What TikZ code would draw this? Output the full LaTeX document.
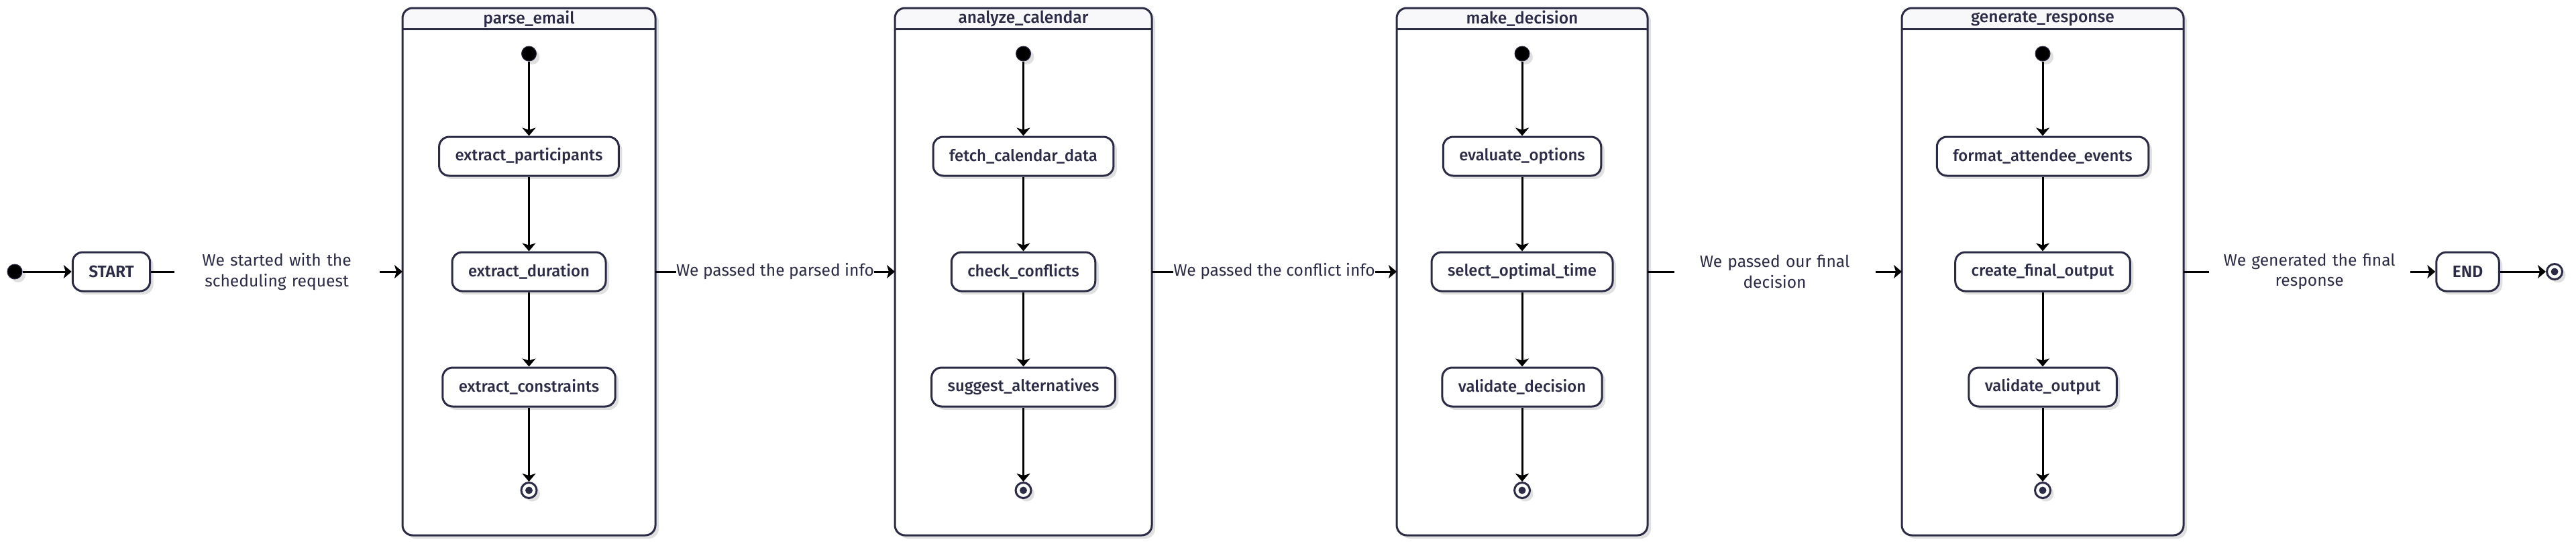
\documentclass[tikz,border=0pt]{standalone}
\usepackage{fontspec}
\setmainfont{Fira Sans}
\newfontfamily\medfont{Fira Sans Medium}
\newfontfamily\semifont{Fira Sans SemiBold}
\usetikzlibrary{positioning,arrows.meta,shadows}
\definecolor{ink}{HTML}{2B2B45}
\definecolor{headfill}{HTML}{F8F8FA}

\tikzset{
  softshadow/.style={drop shadow={shadow xshift=0.05cm, shadow yshift=-0.05cm, opacity=0.12, fill=black}},
  boxline/.style={draw=ink, line width=0.03cm},
  state/.style={boxline, fill=white, rounded corners=0.15cm, minimum height=0.58cm, inner xsep=0.24cm,
    text=ink, font=\medfont\fontsize{6.8}{8}\selectfont, softshadow},
  terminal/.style={state, font=\semifont\fontsize{7}{8}\selectfont},
  group/.style={fill=white, minimum height=7.86cm, rounded corners=0.15cm, inner sep=0, outer sep=0, softshadow},
  grouptitle/.style={text=ink, font=\medfont\fontsize{7}{8}\selectfont},
  initdot/.style={circle, fill=black, draw=ink, line width=0.01cm, minimum size=0.22cm, inner sep=0, softshadow},
  finalstate/.style={circle, boxline, fill=white, minimum size=0.23cm, inner sep=0, softshadow,
    path picture={\fill[ink] (path picture bounding box.center) circle (0.055cm);}},
  flow/.style={-{Stealth[length=0.12cm, width=0.2cm, inset=0.03cm]}, line width=0.03cm, black},
  edgetext/.style={midway, fill=white, inner xsep=0, inner ysep=0.02cm, text=ink, align=center,
    font=\fontsize{7}{8.6}\selectfont}
}

\begin{document}
\begin{tikzpicture}[node distance=1.72cm, on grid]
\useasboundingbox (0,0) rectangle (38.4,-8.13);

% composite states
\node[group, minimum width=3.77cm] (parse) at (7.885,-4.05) {};
\node[group, minimum width=3.83cm] (analyze) at (15.255,-4.05) {};
\node[group, minimum width=3.74cm] (decide) at (22.69,-4.05) {};
\node[group, minimum width=4.20cm] (respond) at (30.45,-4.05) {};

\foreach \g/\t in {parse/parse\_email, analyze/analyze\_calendar, decide/make\_decision, respond/generate\_response}{
  \begin{scope}
    \clip (\g.north west) rectangle ([yshift=-0.31cm]\g.north east);
    \fill[headfill, rounded corners=0.15cm] (\g.north west) rectangle (\g.south east);
  \end{scope}
  \draw[boxline] ([yshift=-0.31cm]\g.north west) -- ([yshift=-0.31cm]\g.north east);
  \draw[boxline, rounded corners=0.15cm] (\g.north west) rectangle (\g.south east);
  \node[grouptitle] at ([yshift=-0.16cm]\g.north) {\t};
}

% parse_email
\node[initdot] (p0) at ([yshift=-0.68cm]parse.north) {};
\node[state, below=1.53cm of p0] (p1) {extract\_participants};
\node[state, below=of p1] (p2) {extract\_duration};
\node[state, below=of p2] (p3) {extract\_constraints};
\node[finalstate, below=1.54cm of p3] (p4) {};
\path[flow] (p0) edge (p1) (p1) edge (p2) (p2) edge (p3) (p3) edge (p4);

% analyze_calendar
\node[initdot] (a0) at ([yshift=-0.68cm]analyze.north) {};
\node[state, below=1.53cm of a0] (a1) {fetch\_calendar\_data};
\node[state, below=of a1] (a2) {check\_conflicts};
\node[state, below=of a2] (a3) {suggest\_alternatives};
\node[finalstate, below=1.54cm of a3] (a4) {};
\path[flow] (a0) edge (a1) (a1) edge (a2) (a2) edge (a3) (a3) edge (a4);

% make_decision
\node[initdot] (d0) at ([yshift=-0.68cm]decide.north) {};
\node[state, below=1.53cm of d0] (d1) {evaluate\_options};
\node[state, below=of d1] (d2) {select\_optimal\_time};
\node[state, below=of d2] (d3) {validate\_decision};
\node[finalstate, below=1.54cm of d3] (d4) {};
\path[flow] (d0) edge (d1) (d1) edge (d2) (d2) edge (d3) (d3) edge (d4);

% generate_response
\node[initdot] (r0) at ([yshift=-0.68cm]respond.north) {};
\node[state, below=1.53cm of r0] (r1) {format\_attendee\_events};
\node[state, below=of r1] (r2) {create\_final\_output};
\node[state, below=of r2] (r3) {validate\_output};
\node[finalstate, below=1.54cm of r3] (r4) {};
\path[flow] (r0) edge (r1) (r1) edge (r2) (r2) edge (r3) (r3) edge (r4);

% top level
\node[initdot] (init) at (0.22,-4.05) {};
\node[terminal] (start) at (1.66,-4.05) {START};
\node[terminal] (end) at (36.785,-4.05) {END};
\node[finalstate] (fin) at (38.08,-4.05) {};

\path[flow]
  (init) edge (start)
  (start) edge node[edgetext, text width=3.06cm] {We started with the\\scheduling request} (parse)
  (parse) edge node[edgetext] {We passed the parsed info} (analyze)
  (analyze) edge node[edgetext] {We passed the conflict info} (decide)
  (decide) edge node[edgetext, text width=3.0cm] {We passed our final\\decision} (respond)
  (respond) edge node[edgetext, text width=3.0cm] {We generated the final\\response} (end)
  (end) edge (fin);
\end{tikzpicture}
\end{document}
